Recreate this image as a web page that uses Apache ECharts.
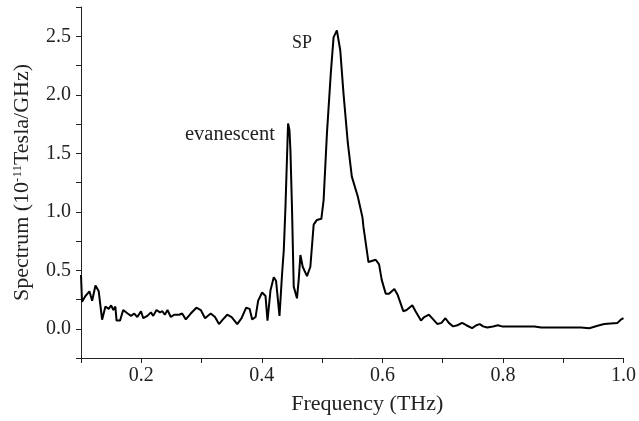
<!DOCTYPE html>
<html>
<head>
<meta charset="utf-8">
<script src="https://cdn.jsdelivr.net/npm/echarts@6/dist/echarts.min.js"></script>
<style>
  html, body { margin: 0; padding: 0; background: #fff; }
  #chart { width: 639px; height: 421px; }
</style>
</head>
<body>
<div id="chart"></div>
<script>
// frequency (THz) and spectrum (1e-11 Tesla/GHz)
const freq = [
  0.100, 0.1017, 0.1074, 0.114, 0.1185, 0.124, 0.1294, 0.135, 0.1405, 0.146,
  0.150, 0.1537, 0.157, 0.159, 0.1648, 0.170, 0.1774, 0.183, 0.1884, 0.1934,
  0.1995, 0.2033, 0.210, 0.216, 0.2198, 0.2253, 0.231, 0.235, 0.239, 0.2435,
  0.249, 0.2545, 0.2628, 0.2678, 0.2739, 0.282, 0.2914, 0.2987, 0.3058, 0.3152,
  0.3223, 0.3289, 0.3355, 0.3426, 0.3499, 0.3592, 0.3664, 0.374, 0.3797, 0.384,
  0.3896, 0.3939, 0.4005, 0.4061, 0.4094, 0.4144, 0.4198, 0.4236, 0.4293, 0.4336,
  0.4364, 0.4392, 0.4435, 0.4458, 0.4474, 0.4501, 0.4529, 0.4583, 0.4612, 0.464,
  0.4678, 0.4749, 0.4805, 0.486, 0.4914, 0.4987, 0.5025, 0.508, 0.5145, 0.519,
  0.5245, 0.5301, 0.5355, 0.5426, 0.5493, 0.5592, 0.567, 0.5686, 0.5769, 0.5889,
  0.5945, 0.5988, 0.6055, 0.611, 0.6198, 0.6253, 0.6347, 0.6402, 0.6496, 0.655,
  0.664, 0.6694, 0.6772, 0.6843, 0.6914, 0.698, 0.7046, 0.7102, 0.7174, 0.7245,
  0.7322, 0.7393, 0.7488, 0.7559, 0.7615, 0.767, 0.774, 0.7835, 0.7917, 0.7983,
  0.8137, 0.8276, 0.8413, 0.8524, 0.8633, 0.8798, 0.902, 0.9294, 0.9433, 0.957,
  0.968, 0.9785, 0.990, 0.9955, 1.000
]
const spectrum = [
  0.46, 0.23, 0.28, 0.32, 0.24, 0.37, 0.32, 0.077, 0.19, 0.17,
  0.20, 0.16, 0.19, 0.07, 0.07, 0.16, 0.13, 0.11, 0.13, 0.10,
  0.15, 0.09, 0.11, 0.14, 0.11, 0.16, 0.14, 0.15, 0.12, 0.16,
  0.10, 0.12, 0.12, 0.13, 0.08, 0.13, 0.18, 0.16, 0.09, 0.13,
  0.10, 0.04, 0.08, 0.12, 0.10, 0.04, 0.09, 0.18, 0.17, 0.08,
  0.10, 0.24, 0.31, 0.28, 0.07, 0.33, 0.44, 0.41, 0.11, 0.47,
  0.67, 1.04, 1.755, 1.70, 1.53, 1.02, 0.36, 0.26, 0.42, 0.63,
  0.53, 0.45, 0.53, 0.89, 0.93, 0.94, 1.10, 1.67, 2.19, 2.49,
  2.55, 2.38, 2.01, 1.59, 1.30, 1.13, 0.95, 0.87, 0.57, 0.59,
  0.55, 0.42, 0.30, 0.30, 0.34, 0.29, 0.15, 0.16, 0.20, 0.15,
  0.07, 0.10, 0.12, 0.08, 0.04, 0.05, 0.09, 0.05, 0.02, 0.03,
  0.05, 0.03, 0.005, 0.03, 0.04, 0.02, 0.01, 0.02, 0.03, 0.02,
  0.02, 0.02, 0.02, 0.02, 0.01, 0.01, 0.01, 0.01, 0.005, 0.025,
  0.04, 0.045, 0.05, 0.077, 0.09
]
const xLabels = [0.2, 0.4, 0.6, 0.8, 1.0]
const yLabels = [0.0, 0.5, 1.0, 1.5, 2.0, 2.5]

const chart = echarts.init(document.getElementById('chart'))
const font = 'Liberation Serif'
const ink = '#222'

const onList = (list, v) => list.some((t) => Math.abs(t - v) < 1e-6)

chart.setOption({
  animation: false,
  backgroundColor: '#fff',
  textStyle: { fontFamily: font },
  grid: { left: 81, right: 13, top: 7, bottom: 63 },
  xAxis: {
    type: 'value',
    min: 0.1,
    max: 1.0,
    interval: 0.1,
    name: 'Frequency (THz)',
    nameLocation: 'middle',
    nameGap: 35,
    nameTextStyle: { fontSize: 22, color: ink, fontFamily: font, padding: [0, 0, 0, 30] },
    axisLine: { onZero: false, lineStyle: { color: ink, width: 1 } },
    axisTick: { length: 5, lineStyle: { color: ink } },
    axisLabel: {
      fontSize: 20,
      color: ink,
      margin: 8,
      fontFamily: font,
      formatter: (v) => (onList(xLabels, v) ? v.toFixed(1) : ''),
    },
    splitLine: { show: false },
  },
  yAxis: {
    type: 'value',
    min: -0.25,
    max: 2.75,
    interval: 0.25,
    name: '{a|Spectrum (10}{s|-11}{a|Tesla/GHz)}',
    nameLocation: 'middle',
    nameGap: 47,
    nameTextStyle: {
      color: ink,
      fontFamily: font,
      rich: {
        a: { fontSize: 22, color: ink, fontFamily: font },
        s: { fontSize: 13, color: ink, fontFamily: font, verticalAlign: 'top', padding: [0, 0, 10, 0] },
      },
    },
    axisLine: { show: true, lineStyle: { color: ink, width: 1 } },
    axisTick: { show: true, length: 5, lineStyle: { color: ink } },
    axisLabel: {
      fontSize: 20,
      color: ink,
      margin: 10,
      fontFamily: font,
      formatter: (v) => (onList(yLabels, v) ? v.toFixed(1) : ''),
    },
    splitLine: { show: false },
  },
  graphic: [
    {
      type: 'text',
      left: 185,
      top: 124,
      style: { text: 'evanescent', fontSize: 20.5, fontFamily: font, fill: ink },
    },
    {
      type: 'text',
      left: 292,
      top: 34,
      style: { text: 'SP', fontSize: 18, fontFamily: font, fill: ink },
    },
  ],
  series: [
    {
      type: 'line',
      data: freq.map((f, i) => [f, spectrum[i]]),
      showSymbol: false,
      lineStyle: { color: '#000', width: 2 },
    },
  ],
})
</script>
</body>
</html>
